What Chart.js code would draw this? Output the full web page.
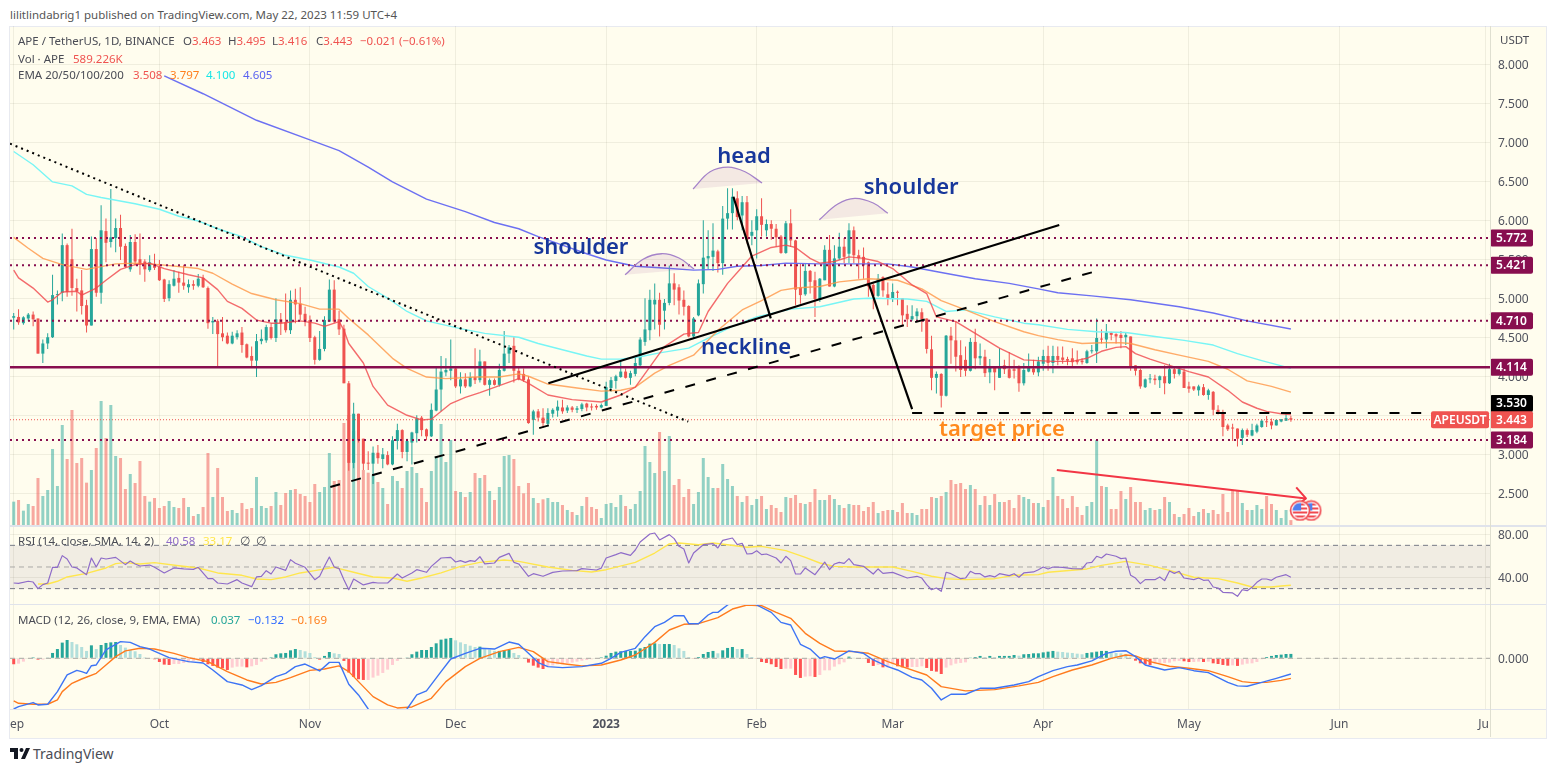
<!DOCTYPE html>
<html>
<head>
<meta charset="utf-8">
<title>APE / TetherUS</title>
<script src="https://cdn.jsdelivr.net/npm/chart.js@4/dist/chart.umd.js"></script>
<style>
  html, body { margin: 0; padding: 0; background: #fff; width: 1556px; height: 772px; overflow: hidden; }
  body { position: relative; font-family: "Noto Sans", sans-serif; }
  #frame { position: absolute; left: 9px; top: 26px; width: 1536px; height: 711px; background: #fffdee; border: 1px solid #e8eaf0; }
  canvas { position: absolute; left: 10px; }
  .rule { position: absolute; background: #e0e3eb; }
  .t { position: absolute; font-size: 11.5px; line-height: 16px; white-space: pre; color: #4a4c55; }
  .red { color: #ef5350; } .org { color: #ff7f1e; } .cya { color: #18e6e6; } .blu { color: #5a62f0; }
  .pur { color: #8e6bc8; } .yel { color: #ffe64d; } .tea { color: #26a69a; } .mb { color: #2f6bff; }
</style>
</head>
<body>
<div class="t" style="left:10px;top:7px;color:#555">lilitlindabrig1 published on TradingView.com, May 22, 2023 11:59 UTC+4</div>
<div id="frame"></div>
<canvas id="priceCanvas" width="1536" height="499" style="top:26px"></canvas>
<canvas id="rsiCanvas" width="1536" height="77" style="top:527px"></canvas>
<canvas id="macdCanvas" width="1536" height="132" style="top:605px"></canvas>
<div class="rule" style="left:10px;top:525px;width:1536px;height:2px"></div>
<div class="rule" style="left:10px;top:604px;width:1536px;height:1px"></div>
<div class="rule" style="left:10px;top:709px;width:1536px;height:1px"></div>
<div class="rule" style="left:1490px;top:26px;width:1px;height:711px;background:#dfdfd0"></div>

<div class="t" style="left:18px;top:33px">APE / TetherUS, 1D, BINANCE</div>
<div class="t" style="left:183px;top:33px">O<span class="red">3.463</span></div>
<div class="t" style="left:228px;top:33px">H<span class="red">3.495</span></div>
<div class="t" style="left:272px;top:33px">L<span class="red">3.416</span></div>
<div class="t" style="left:316px;top:33px">C<span class="red">3.443</span></div>
<div class="t red" style="left:360px;top:33px">−0.021 (−0.61%)</div>
<div class="t" style="left:18px;top:51px">Vol · APE</div>
<div class="t red" style="left:73px;top:51px">589.226K</div>
<div class="t" style="left:18px;top:67px">EMA 20/50/100/200</div>
<div class="t red" style="left:133px;top:67px">3.508</div>
<div class="t org" style="left:170px;top:67px">3.797</div>
<div class="t cya" style="left:206px;top:67px">4.100</div>
<div class="t blu" style="left:243px;top:67px">4.605</div>
<div class="t" style="left:1500px;top:32px">USDT</div>
<div class="t" style="left:18px;top:533px">RSI (14, close, SMA, 14, 2)</div>
<div class="t pur" style="left:166px;top:533px">40.58</div>
<div class="t yel" style="left:203px;top:533px">33.17</div>
<div class="t" style="left:240px;top:533px">∅</div>
<div class="t" style="left:256px;top:533px">∅</div>
<div class="t" style="left:18px;top:612px">MACD (12, 26, close, 9, EMA, EMA)</div>
<div class="t tea" style="left:211px;top:612px">0.037</div>
<div class="t mb" style="left:248px;top:612px">−0.132</div>
<div class="t org" style="left:291px;top:612px">−0.169</div>
<svg style="position:absolute;left:10px;top:748px" width="21" height="12" viewBox="0 0 21 12">
  <path d="M0 0h8v11H4V4H0z M20 0l-5 11h-4l5-11z" fill="#131722"/><circle cx="11.5" cy="2" r="2" fill="#131722"/>
</svg>
<div class="t" style="left:33px;top:745px;font-size:14px;line-height:18px;color:#4a4c55">TradingView</div>

<script>
// Daily candles, 1 Sep 2022 onwards; bar index = days since the first session
const opens = [
4.75,4.76,4.68,4.74,4.79,4.74,4.29,4.42,4.50,5.04,
5.07,5.68,5.50,5.13,5.10,4.91,4.65,5.63,5.07,5.86,
5.72,5.77,5.90,5.67,5.37,5.72,5.50,5.47,5.36,5.44,
5.40,5.24,5.00,5.16,5.26,5.20,5.14,5.18,5.16,5.26,
5.13,4.69,4.71,4.55,4.52,4.42,4.50,4.56,4.41,4.26,
4.20,4.45,4.46,4.63,4.49,4.73,4.69,4.59,4.98,4.93,
4.80,4.72,4.50,4.21,4.35,4.70,5.11,4.73,4.61,3.91,
2.89,3.52,3.20,2.89,2.88,3.02,2.94,2.99,2.87,3.17,
3.31,3.03,3.15,3.27,3.47,3.32,3.23,3.56,3.83,4.05,
4.07,4.10,3.87,3.96,3.87,3.99,3.95,4.19,3.89,3.95,
3.89,4.07,4.29,4.39,4.07,4.03,3.96,3.44,3.55,3.47,
3.39,3.52,3.56,3.60,3.56,3.60,3.57,3.58,3.65,3.61,
3.62,3.60,3.62,3.85,3.94,3.99,4.06,3.98,4.03,4.14,
4.44,4.59,4.92,4.98,4.84,4.94,5.19,5.14,4.98,4.90,
4.51,4.78,5.18,5.51,5.53,5.60,5.45,6.02,6.09,6.28,
6.06,6.23,5.80,5.87,6.05,5.87,5.95,5.89,5.79,5.58,
5.96,5.74,5.14,5.05,5.35,5.23,4.98,5.23,5.62,5.15,
5.51,5.66,5.57,5.87,5.55,5.53,5.46,5.17,5.03,5.27,
5.05,4.99,5.08,5.00,4.80,4.73,4.77,4.82,4.74,4.345,
3.98,4.03,3.75,4.52,4.46,4.27,4.21,4.07,4.44,4.23,
4.25,4.05,4.13,3.98,4.14,4.09,4.09,4.12,3.91,4.06,
4.10,4.05,4.16,4.26,4.17,4.26,4.24,4.22,4.23,4.21,
4.20,4.17,4.32,4.32,4.48,4.47,4.56,4.54,4.53,4.50,
4.51,4.14,4.08,3.86,3.96,3.97,3.95,4.00,3.91,4.09,
4.03,4.06,3.87,3.87,3.82,3.86,3.76,3.80,3.57,3.54,
3.37,3.34,3.33,3.21,3.31,3.24,3.29,3.35,3.42,3.42,
3.37,3.42,3.43,3.463];
const closes = [
4.77,4.69,4.755,4.79,4.73,4.29,4.42,4.50,5.04,5.05,
5.68,5.08,5.13,5.09,4.90,4.65,5.63,5.07,5.87,5.71,
5.78,5.90,5.66,5.40,5.72,5.47,5.43,5.37,5.46,5.39,
5.23,4.99,5.18,5.25,5.20,5.16,5.18,5.16,5.25,5.14,
4.68,4.71,4.54,4.50,4.42,4.52,4.55,4.40,4.24,4.20,
4.45,4.48,4.63,4.49,4.73,4.68,4.59,4.98,4.92,4.79,
4.70,4.49,4.21,4.35,4.72,5.11,4.70,4.60,3.91,2.89,
3.52,3.18,2.88,2.88,3.02,2.95,3.00,2.87,3.18,3.31,
3.03,3.17,3.28,3.46,3.31,3.23,3.57,3.83,4.06,4.08,
4.10,3.87,3.96,3.87,3.99,3.95,4.19,3.89,3.95,3.89,
4.08,4.29,4.37,4.07,3.96,3.95,3.40,3.55,3.47,3.40,
3.53,3.57,3.61,3.55,3.60,3.57,3.59,3.64,3.60,3.60,
3.60,3.63,3.86,3.95,4.00,4.06,3.98,4.04,4.17,4.47,
4.60,4.98,4.98,4.66,4.94,5.19,5.11,4.97,4.89,4.51,
4.74,5.19,5.52,5.54,5.61,5.45,6.02,6.09,6.30,6.04,
6.23,5.75,5.85,6.05,5.94,5.95,5.89,5.78,5.58,5.96,
5.74,5.11,5.04,5.35,5.21,4.99,5.25,5.62,5.15,5.51,
5.66,5.53,5.87,5.55,5.51,5.42,5.15,5.03,5.25,5.10,
4.99,5.08,5.07,4.78,4.73,4.77,4.83,4.73,4.35,3.98,
4.03,3.75,4.52,4.46,4.25,4.08,4.07,4.44,4.23,4.26,
4.04,4.13,4.05,4.13,4.09,3.98,4.07,3.91,4.08,4.12,
4.05,4.19,4.26,4.17,4.26,4.21,4.21,4.20,4.18,4.18,
4.18,4.32,4.33,4.49,4.47,4.56,4.53,4.51,4.49,4.53,
4.12,4.07,3.87,3.96,3.97,3.95,4.00,3.91,4.09,4.03,
4.09,3.85,3.84,3.83,3.87,3.76,3.82,3.57,3.52,3.35,
3.32,3.33,3.20,3.31,3.25,3.31,3.37,3.43,3.41,3.37,
3.44,3.45,3.463,3.443];
const highs = [
4.81,4.86,4.77,4.81,4.83,4.74,4.47,4.55,5.30,5.10,
5.83,5.70,5.89,5.25,5.36,4.98,5.79,5.77,6.19,6.02,
6.40,6.02,6.07,5.70,5.81,5.82,5.83,5.50,5.55,5.57,
5.49,5.25,5.23,5.36,5.34,5.43,5.24,5.23,5.31,5.30,
5.15,4.76,4.73,4.76,4.56,4.57,4.59,4.63,4.42,4.38,
4.54,4.60,4.66,4.68,5.00,4.81,5.06,5.10,5.12,5.14,
4.89,4.78,4.52,4.58,4.77,5.24,5.23,4.84,4.66,3.94,
3.66,3.52,3.20,3.04,3.10,3.12,3.08,3.04,3.23,3.39,
3.32,3.20,3.29,3.50,3.49,3.33,3.65,4.11,4.26,4.23,
4.47,4.11,4.05,4.04,4.05,4.36,4.34,4.19,3.97,3.97,
4.16,4.58,4.40,4.50,4.13,4.10,4.00,3.57,3.58,3.59,
3.59,3.59,3.69,3.70,3.63,3.62,3.62,3.66,3.66,3.65,
3.64,3.65,3.93,3.99,4.02,4.20,4.10,4.07,4.25,4.50,
5.00,5.11,5.19,5.07,4.99,5.42,5.32,5.18,5.10,4.91,
4.76,5.24,6.00,5.87,5.96,5.62,6.18,6.41,6.41,6.37,
6.31,6.31,6.00,6.14,6.28,6.01,6.00,5.95,5.81,5.99,
6.14,5.75,5.45,5.45,5.36,5.34,5.26,5.68,5.81,5.68,
5.84,5.77,5.96,5.92,5.62,5.65,5.47,5.19,5.31,5.28,
5.20,5.19,5.10,5.00,4.91,4.91,4.87,4.87,4.74,4.52,
4.06,4.04,4.53,4.63,4.70,4.46,4.38,4.49,4.61,4.42,
4.34,4.22,4.13,4.36,4.21,4.31,4.21,4.14,4.17,4.29,
4.21,4.25,4.34,4.39,4.39,4.38,4.38,4.25,4.36,4.33,
4.23,4.34,4.40,4.74,4.60,4.67,4.57,4.55,4.58,4.56,
4.51,4.14,4.10,3.97,4.03,4.02,4.01,4.14,4.16,4.12,
4.12,4.10,3.93,3.87,3.89,3.90,3.84,3.81,3.63,3.57,
3.39,3.39,3.33,3.33,3.33,3.39,3.39,3.45,3.49,3.46,
3.45,3.45,3.53,3.495];
const lows = [
4.60,4.66,4.66,4.71,4.64,4.29,4.17,4.35,4.49,4.92,
4.96,5.02,5.03,4.83,4.79,4.56,4.65,5.02,4.93,5.46,
5.65,5.59,5.49,5.39,5.34,5.42,5.30,5.21,5.34,5.36,
5.22,4.95,4.96,5.15,5.07,5.11,5.07,5.11,5.14,5.13,
4.61,4.54,4.12,4.45,4.41,4.41,4.47,4.30,4.23,4.12,
3.99,4.41,4.43,4.47,4.44,4.53,4.56,4.54,4.68,4.72,
4.64,4.44,4.15,4.20,4.32,4.70,4.68,4.53,3.91,2.79,
2.82,3.15,2.80,2.80,2.62,2.88,2.82,2.86,2.86,3.06,
2.95,2.91,2.87,3.15,3.23,3.18,3.22,3.55,3.55,4.00,
3.95,3.85,3.78,3.85,3.86,3.90,3.92,3.88,3.75,3.88,
3.87,4.06,4.17,3.92,3.95,3.93,3.39,3.25,3.42,3.34,
3.36,3.47,3.48,3.52,3.53,3.54,3.53,3.55,3.55,3.56,
3.57,3.59,3.62,3.80,3.84,3.98,3.97,3.89,4.00,4.13,
4.39,4.46,4.60,4.51,4.60,4.91,4.91,4.79,4.78,4.50,
4.49,4.77,5.06,5.37,5.35,5.33,5.30,5.88,5.88,6.00,
5.87,5.70,5.68,5.51,5.79,5.79,5.75,5.66,5.57,5.57,
5.66,4.91,4.93,5.03,5.06,4.76,4.95,5.23,5.15,5.14,
5.49,5.45,5.45,5.45,5.25,5.25,5.02,4.86,5.02,5.02,
4.91,4.95,4.91,4.64,4.63,4.71,4.70,4.57,4.29,3.82,
3.78,3.60,3.74,4.16,4.06,3.99,4.00,4.06,4.09,4.14,
3.99,3.91,3.82,3.98,4.03,3.97,3.97,3.80,3.88,4.05,
4.02,4.00,4.07,4.07,4.04,4.14,4.16,4.14,4.13,4.15,
4.15,4.16,4.29,4.17,4.42,4.36,4.46,4.42,4.36,4.40,
4.07,4.01,3.84,3.85,3.91,3.89,3.85,3.77,3.90,3.97,
4.01,3.85,3.79,3.81,3.75,3.75,3.70,3.50,3.51,3.23,
3.30,3.17,3.10,3.12,3.22,3.23,3.27,3.34,3.35,3.32,
3.37,3.41,3.43,3.416];
// Traded volume, thousands of APE
const volumes = [
2800,3000,1720,2520,2280,5640,3480,4200,9120,4680,
12000,7920,13800,7440,8040,5080,6600,9240,14880,10440,
14400,8280,8040,4320,6120,5040,7680,3480,2800,3240,
2040,2280,2880,2160,2040,3240,2160,1080,1320,2160,
8640,3360,6840,3360,1680,1800,1440,2640,1920,2040,
5760,2280,2040,2280,3960,2400,3840,4200,4320,3720,
3480,2760,4920,3960,4560,8640,5280,5400,12240,13200,
11280,10600,6600,6280,6000,5160,4440,2520,5880,5280,
4440,6480,6960,6240,4440,2760,6480,8200,12120,7560,
10200,4080,3960,3360,3960,6240,5640,6000,4080,3000,
4560,8280,8400,7920,4680,3800,5040,3240,2640,3080,
3240,2760,2760,2400,1800,1560,1200,2280,3360,2160,
1920,840,2520,2640,2160,3600,2280,1920,2520,4080,
9480,7560,6240,11160,6480,10680,4800,5520,3360,4320,
2520,3960,8040,5760,4440,4440,7320,5520,4680,3480,
2760,3480,2400,3120,3480,1920,2400,2040,1560,3360,
3240,3600,2640,2520,2760,4320,3000,3000,3600,3120,
2400,2040,2520,2400,2400,1680,2160,2760,1440,1680,
1800,1800,1560,2640,1440,1440,1200,1920,1920,3360,
3240,3480,3960,5400,4920,5040,4320,4800,4320,2400,
3480,2400,3720,2760,2760,3000,2040,3600,3360,3120,
2640,2640,2160,3000,5760,3480,3120,2040,3480,2160,
1200,2280,2760,10200,4680,4560,1920,1920,4080,3120,
4560,2760,2760,1800,2040,1800,1920,3360,2760,1320,
960,1320,2040,1080,1560,1920,1440,1800,1320,3720,
1560,4080,4080,2640,1800,1800,2400,1920,3480,2520,
1800,840,1800,589.226];

// Moving averages, read at the sessions listed beside each one
const ema20Days = [0,1,4,7,8,10,13,14,17,19,22,25,28,31,36,39,42,44,47,50,53,55,59,62,64,67,68,69,72,74,77,81,84,86,90,93,96,100,104,106,110,115,121,125,128,131,134,138,139,141,143,147,150,152,156,159,161,164,166,169,172,175,178,181,185,188,190,194,198,203,208,211,214,218,221,224,227,229,231,234,238,242,246,250,253,256,258,261,263];
const ema20Values = [5.36,5.26,5.13,4.95,4.98,5.08,5.09,5.04,5.13,5.23,5.37,5.43,5.45,5.38,5.30,5.26,5.11,4.96,4.87,4.72,4.68,4.68,4.71,4.68,4.64,4.70,4.59,4.42,4.17,3.87,3.63,3.50,3.44,3.45,3.65,3.73,3.79,3.88,3.97,3.91,3.76,3.70,3.67,3.76,3.86,4.12,4.38,4.54,4.55,4.56,4.83,5.19,5.40,5.54,5.65,5.68,5.65,5.51,5.45,5.47,5.53,5.51,5.47,5.38,5.17,5.06,4.76,4.70,4.55,4.36,4.21,4.20,4.19,4.19,4.23,4.32,4.37,4.38,4.29,4.22,4.14,4.06,3.99,3.82,3.67,3.59,3.55,3.52,3.508];
const ema50Days = [0,3,6,10,15,21,25,30,38,41,45,49,54,59,63,67,69,73,78,81,85,89,95,100,104,106,110,116,121,125,128,132,135,140,145,150,154,158,161,166,170,176,182,187,191,196,202,208,211,215,220,224,228,230,235,240,246,250,254,259,263];
const ema50Values = [5.78,5.64,5.51,5.43,5.37,5.44,5.45,5.43,5.38,5.32,5.18,5.06,4.98,4.93,4.86,4.86,4.74,4.53,4.23,4.10,3.99,3.97,3.99,3.99,4.03,4.00,3.90,3.85,3.81,3.82,3.86,4.04,4.14,4.27,4.59,4.85,4.97,5.10,5.13,5.15,5.21,5.25,5.23,5.12,4.97,4.85,4.70,4.57,4.52,4.47,4.42,4.43,4.43,4.42,4.34,4.27,4.19,4.09,3.94,3.87,3.797];
const ema100Days = [0,4,8,12,15,18,25,30,34,38,42,47,51,56,61,67,70,73,77,81,85,92,97,104,108,113,118,121,125,129,133,139,143,148,153,160,166,173,176,184,188,192,196,202,208,211,217,223,229,235,241,247,252,257,263];
const ema100Values = [6.88,6.71,6.49,6.44,6.33,6.29,6.21,6.14,6.05,5.99,5.89,5.79,5.66,5.55,5.49,5.40,5.32,5.15,5.00,4.83,4.71,4.61,4.55,4.50,4.42,4.34,4.26,4.22,4.22,4.25,4.30,4.36,4.49,4.64,4.76,4.86,4.89,4.99,5.00,4.99,4.96,4.83,4.85,4.76,4.68,4.66,4.60,4.57,4.56,4.51,4.46,4.40,4.29,4.20,4.10];
const ema200Days = [31,39,50,61,67,73,78,85,93,99,104,108,113,118,122,128,133,140,145,149,154,159,166,173,180,185,191,198,205,211,215,222,230,240,247,254,263];
const ema200Values = [7.85,7.62,7.28,7.03,6.89,6.68,6.49,6.27,6.11,5.97,5.89,5.79,5.68,5.57,5.49,5.41,5.39,5.36,5.37,5.41,5.42,5.45,5.44,5.44,5.44,5.40,5.33,5.25,5.19,5.12,5.07,5.03,4.98,4.89,4.81,4.71,4.605];

// RSI and its moving average
const rsiDays = [0,1,3,4,5,6,7,8,9,10,11,12,13,15,16,17,18,19,21,23,24,25,26,28,29,31,33,35,37,38,40,41,42,44,46,47,49,50,51,52,53,54,56,57,58,60,62,63,64,65,66,67,68,69,70,72,74,75,77,79,80,82,83,85,86,88,90,91,92,93,94,95,96,97,99,100,102,103,104,106,107,109,111,113,116,117,120,121,122,124,125,127,128,129,131,132,133,135,136,137,138,139,140,142,144,145,146,148,149,150,151,152,153,154,155,157,158,159,160,161,162,163,165,167,168,169,170,171,172,173,175,177,178,179,181,184,186,187,188,189,190,191,192,193,195,196,197,198,199,200,201,202,203,205,206,207,208,210,211,212,213,214,216,218,220,221,222,223,224,225,227,228,229,230,231,232,233,235,236,237,238,239,240,241,243,244,245,246,247,248,249,251,252,253,254,255,256,257,258,259,260,262,263];
const rsiValues = [35.2,34.9,36.8,36.1,30,33.7,35.2,49.7,49.7,60.5,57.4,50,49.1,42.9,58.3,50,58.3,57.4,58.9,52.2,55.5,52.8,50.9,51.8,49.7,44.5,49.1,48.2,47.8,49.7,39.2,39.2,35.2,34.3,38.3,35.2,31.8,40.8,41.4,46.6,43.5,50,46.9,56.8,53.4,49.7,38.3,41.4,50.6,59.2,50,48.5,38.3,29,38.9,33.4,35.8,35.2,35.2,43.5,39.8,44.5,47.5,45.1,50.6,58.3,58.9,54.6,55.9,54.3,55.9,55.2,59.5,52.8,53.7,58.9,62.6,54.3,52.8,41.4,43.8,41.4,45,46.3,46.6,48.5,47.2,49,58.3,61.4,63.2,60.8,65.7,73.1,80.5,81.4,75,79.9,76.2,69.1,66.6,53.7,62.9,70.6,71.6,67.6,74.6,76.8,70.6,71.9,62,62.3,65,61.4,62,58.3,53.7,59.9,55.9,43.5,43.5,49.1,42.9,54.6,47.5,52.8,54.3,53.4,57.7,52.2,50.6,43.5,48.2,44.1,45,39.8,41.4,39.8,33.7,29,30.6,27.5,45.1,43.8,39.2,39.8,46,43.8,43.8,40.8,42,40.8,43.8,42,43.8,40.5,44.5,45.4,47.5,50,48.2,50,49.7,48.5,48.2,53.7,54.3,59.9,58.3,62,59.9,57.7,58.3,42.3,39.8,34.6,38.3,38.3,40.8,37.4,46.3,44.1,46,39.8,38.3,39.8,37.7,38,31.5,30.6,26.6,26,22.9,29,28.1,31.2,35.8,38.9,38.9,37.7,40.5,42.9,40.58];
const rsiMaDays = [5,7,9,11,15,19,21,23,26,29,34,38,42,47,50,53,56,59,62,66,70,74,78,81,84,88,92,96,101,104,110,115,119,122,128,132,135,137,141,144,147,151,154,159,163,166,169,173,177,181,185,189,192,196,202,206,211,213,221,224,229,234,238,243,248,252,255,259,261,263];
const rsiMaValues = [34.3,34.3,36.8,40.8,44.1,49.1,53.1,54,52.8,54,51.2,49.1,44.5,42.3,38.9,38.3,40.8,44.5,46.6,49.7,45.1,40.8,39.8,36.8,39.8,44.5,50.6,54.3,56.5,55.2,50,46.9,45.4,47.5,54.3,62.9,71.3,72.2,70.6,72.2,70.6,68.2,69.1,65.1,58.9,53.7,50.6,50,50,50,46,41.4,39.2,38.3,39.2,42.3,42.9,45.1,48.2,51.5,55.2,51.5,46.9,40.5,39.2,35.2,31.5,31.5,32.4,33.17];
const rsiBands = [70, 50, 30];

// MACD line, signal line and histogram
const macdDays = [0,1,4,5,7,9,11,13,14,15,16,17,19,22,24,26,28,30,32,36,39,41,44,47,49,51,54,56,58,60,63,65,67,69,71,73,76,79,81,83,85,88,90,93,96,99,102,104,106,108,110,113,117,121,123,125,128,130,132,134,136,138,139,141,143,144,145,147,150,153,156,158,160,162,164,166,167,169,172,175,177,180,182,185,187,189,191,193,196,199,202,206,209,211,214,217,219,222,225,227,229,231,233,237,240,243,246,250,252,254,257,260,263];
const macdValues = [-0.426,-0.406,-0.372,-0.392,-0.386,-0.28,-0.14,-0.101,-0.112,-0.126,-0.062,-0.056,0.07,0.14,0.134,0.098,0.078,0.042,0.006,-0.028,-0.039,-0.098,-0.196,-0.224,-0.263,-0.23,-0.154,-0.126,-0.07,-0.048,-0.106,-0.034,-0.034,-0.218,-0.308,-0.426,-0.55,-0.55,-0.426,-0.308,-0.274,-0.112,-0.006,0.042,0.084,0.078,0.137,0.118,0.042,-0.036,-0.07,-0.078,-0.07,-0.042,0,0.05,0.084,0.182,0.266,0.302,0.358,0.358,0.291,0.291,0.364,0.386,0.386,0.448,0.52,0.448,0.386,0.302,0.28,0.118,0.078,0,0.014,-0.006,0.062,0.042,-0.014,-0.07,-0.098,-0.16,-0.182,-0.252,-0.35,-0.302,-0.302,-0.252,-0.252,-0.224,-0.196,-0.154,-0.104,-0.07,-0.056,-0.022,0.042,0.059,0.064,0.014,-0.056,-0.098,-0.078,-0.104,-0.12,-0.202,-0.232,-0.235,-0.202,-0.168,-0.132];
const signalDays = [0,1,4,7,9,10,12,14,17,19,21,23,26,29,33,36,40,44,48,51,54,57,61,64,67,69,71,74,77,79,82,86,89,93,96,100,104,107,110,114,117,121,125,128,132,135,138,141,145,148,151,154,157,160,163,166,169,173,176,180,184,188,191,196,202,207,211,214,218,222,226,229,231,234,238,242,246,250,253,255,258,261,263];
const signalValues = [-0.358,-0.378,-0.386,-0.386,-0.35,-0.28,-0.21,-0.174,-0.126,-0.056,0.014,0.062,0.084,0.078,0.042,0.006,-0.028,-0.112,-0.182,-0.216,-0.202,-0.162,-0.101,-0.09,-0.064,-0.112,-0.196,-0.322,-0.392,-0.417,-0.409,-0.336,-0.196,-0.07,0,0.056,0.092,0.056,-0.028,-0.05,-0.064,-0.056,-0.014,0.028,0.134,0.238,0.286,0.291,0.342,0.414,0.448,0.442,0.386,0.336,0.21,0.126,0.062,0.056,0.042,-0.028,-0.084,-0.14,-0.238,-0.274,-0.263,-0.232,-0.202,-0.154,-0.098,-0.056,0,0.028,0.02,-0.028,-0.067,-0.084,-0.104,-0.154,-0.196,-0.204,-0.202,-0.185,-0.169];
const macdHist = [
-0.05,-0.045,-0.028,0,0.008,-0.011,-0.011,0.003,0.045,0.078,
0.132,0.154,0.137,0.118,0.095,0.062,0.109,0.078,0.112,0.129,
0.134,0.137,0.112,0.09,0.07,0.059,0.036,0.008,0,-0.008,
-0.031,-0.053,-0.056,-0.048,-0.048,-0.039,-0.034,-0.022,-0.017,-0.031,
-0.05,-0.064,-0.078,-0.084,-0.098,-0.078,-0.07,-0.07,-0.076,-0.067,
-0.056,-0.028,-0.011,0.008,0.034,0.042,0.045,0.067,0.078,0.07,
0.059,0.045,0.011,-0.011,0.02,0.053,0.042,0.036,-0.022,-0.12,
-0.157,-0.176,-0.182,-0.182,-0.162,-0.146,-0.123,-0.095,-0.056,-0.022,
-0.006,0.006,0.034,0.056,0.07,0.07,0.095,0.126,0.157,0.165,
0.171,0.151,0.134,0.12,0.106,0.095,0.098,0.078,0.073,0.062,
0.062,0.067,0.07,0.045,0.028,0.006,-0.036,-0.062,-0.078,-0.09,
-0.07,-0.059,-0.05,-0.05,-0.039,-0.036,-0.028,-0.02,-0.014,-0.008,
0,0.008,0.022,0.045,0.056,0.059,0.062,0.062,0.064,0.084,
0.095,0.123,0.126,0.12,0.12,0.12,0.112,0.084,0.062,0.011,
-0.003,0.011,0.036,0.053,0.062,0.042,0.067,0.087,0.095,0.078,
0.078,0.036,0.011,-0.003,-0.031,-0.039,-0.05,-0.073,-0.09,-0.087,
-0.087,-0.14,-0.165,-0.154,-0.151,-0.157,-0.14,-0.101,-0.101,-0.07,
-0.05,-0.034,0.014,0.006,-0.003,-0.006,-0.039,-0.064,-0.056,-0.076,
-0.076,-0.05,-0.067,-0.076,-0.078,-0.073,-0.073,-0.067,-0.081,-0.106,
-0.112,-0.132,-0.078,-0.059,-0.045,-0.039,-0.034,0.006,0.011,0.02,
0.011,0.02,0.011,0.02,0.02,0.02,0.028,0.022,0.034,0.036,
0.042,0.042,0.05,0.056,0.062,0.056,0.053,0.048,0.045,0.039,
0.034,0.045,0.05,0.056,0.062,0.062,0.05,0.045,0.042,0.036,
0.008,-0.02,-0.042,-0.05,-0.056,-0.045,-0.039,-0.039,-0.036,-0.025,
-0.022,-0.025,-0.031,-0.031,-0.028,-0.031,-0.028,-0.042,-0.048,-0.056,
-0.062,-0.059,-0.064,-0.053,-0.045,-0.042,-0.031,-0.008,0.011,0.02,
0.028,0.031,0.036,0.037];

// Axis ticks
const priceTicks = [2.5,3,3.5,4,4.5,5,5.5,6,6.5,7,7.5,8];
const rsiTicks = [40,80];
const macdTicks = [0];
const monthStarts = [0,30,61,91,122,153,181,212,242,273,303];
const monthLabels = ['Sep','Oct','Nov','Dec','2023','Feb','Mar','Apr','May','Jun','Jul'];

// Horizontal price levels
const dottedLevels = [5.772,5.421,4.710,3.184];
const solidLevel = 4.114;
const targetLevel = 3.530;
const lastPrice = 3.443;

// Hand-drawn pattern lines, each given as session / price pairs
const resistanceTrend = [[-0.76,6.98],[138.9,3.418]];
const necklineTrend = [[110.1,3.91],[215.3,5.938]];
const supportTrend = [[65.2,2.581],[223.7,5.361]];
const headDrop = [[148.2,6.30],[155.9,4.742]];
const targetDrop = [[176.1,5.18],[185,3.58]];
const targetRun = [[185,targetLevel],[304,targetLevel]];
const volumeArrow = [[214.8,2.80],[266.1,2.434]];
const arrowHead = [[264.1,2.577],[266.1,2.434],[264.3,2.35]];
const headArc = [[139.9,6.40],[143.4,6.62],[147.1,6.68],[150.6,6.62],[154.1,6.476]];
const leftArc = [[125.9,5.30],[129.6,5.50],[133.4,5.57],[137,5.515],[140.1,5.374]];
const rightArc = [[165.9,6.006],[169.7,6.207],[173.2,6.28],[177,6.22],[180,6.088]];
const eventFlags = [[267.2,2.28],[264.9,2.28]];

const uiFont = '"Noto Sans", sans-serif';
Chart.defaults.font.family = uiFont;
Chart.defaults.animation = false;

const TEAL = '#26a69a', RED = '#ef5350';
const gridColor = 'rgba(60,60,30,0.075)';
const axisWidth = 56;
const xMin = -0.762, xMax = 304.0;
const tickColor = '#50535e';

const pairs = (list) => list.map(([x, y]) => ({ x, y }));
const zip = (xs, ys) => xs.map((x, i) => ({ x, y: ys[i] }));
const isUp = (i) => closes[i] >= opens[i];
const barColors = (up, down) => closes.map((_, i) => isUp(i) ? up : down);

function xAxis(height, showLabels) {
  return {
    type: 'linear', min: xMin, max: xMax, offset: false,
    border: { display: false },
    grid: { color: gridColor, drawTicks: false, offset: false },
    afterBuildTicks(s) { s.ticks = monthStarts.map((value) => ({ value })); },
    afterFit(s) { s.height = height; s.paddingLeft = 0; s.paddingRight = 0; },
    ticks: {
      display: showLabels, autoSkip: false, maxRotation: 0, padding: 8, color: tickColor,
      font: (ctx) => ({ size: 12, family: uiFont, weight: ctx.index === 4 ? '700' : '400' }),
      callback: (v, i) => monthLabels[i]
    }
  };
}
function yAxis(min, max, tickList, format) {
  return {
    type: 'linear', position: 'right', min, max, offset: false,
    border: { display: false },
    grid: { color: gridColor, drawTicks: false, offset: false },
    afterBuildTicks(s) { s.ticks = tickList.map((value) => ({ value })); },
    afterFit(s) { s.width = axisWidth; s.paddingTop = 0; s.paddingBottom = 0; },
    ticks: { padding: 8, labelOffset: 1, color: tickColor, font: { size: 12 }, callback: format }
  };
}
const baseOptions = {
  responsive: false, maintainAspectRatio: false, devicePixelRatio: 1,
  layout: { padding: 0, autoPadding: false },
  events: [],
  plugins: { legend: { display: false }, tooltip: { enabled: false } }
};
function lineSet(data, color, width, dash, order, extra) {
  return Object.assign({
    type: 'line', data, borderColor: color, borderWidth: width, borderDash: dash || [],
    pointRadius: 0, tension: 0, fill: false, order, yAxisID: 'y', borderJoinStyle: 'round'
  }, extra || {});
}

// Small US-flag marker for the economic-event pins
function flagMarker() {
  const c = document.createElement('canvas');
  c.width = 22; c.height = 22;
  const g = c.getContext('2d');
  g.beginPath(); g.arc(11, 11, 10, 0, 2 * Math.PI); g.fillStyle = '#fff'; g.fill();
  g.save(); g.beginPath(); g.arc(11, 11, 7.5, 0, 2 * Math.PI); g.clip();
  g.fillStyle = '#fff'; g.fillRect(0, 0, 22, 22);
  g.fillStyle = '#f0484e';
  for (let y = 4; y < 20; y += 4) g.fillRect(0, y, 22, 2);
  g.fillStyle = '#4f7ff0'; g.fillRect(3, 3, 9, 8);
  g.restore();
  g.beginPath(); g.arc(11, 11, 9.5, 0, 2 * Math.PI); g.strokeStyle = '#ef4148'; g.lineWidth = 1.6; g.stroke();
  return c;
}

// Pattern captions placed in session / price coordinates
const captions = [
  { text: 'head', day: 150.4, price: 6.81, color: '#17379b' },
  { text: 'shoulder', day: 184.8, price: 6.41, color: '#17379b' },
  { text: 'shoulder', day: 116.8, price: 5.645, color: '#17379b' },
  { text: 'neckline', day: 150.8, price: 4.365, color: '#17379b' },
  { text: 'target price', day: 203.5, price: 3.315, color: '#ff8a1e' }
];
// Value tags on the price axis
const priceTags = [
  { value: 5.772, text: '5.772', bg: '#880e4f', fg: '#fff' },
  { value: 5.421, text: '5.421', bg: '#880e4f', fg: '#fff' },
  { value: 4.710, text: '4.710', bg: '#880e4f', fg: '#fff' },
  { value: 4.114, text: '4.114', bg: '#880e4f', fg: '#fff' },
  { value: 3.530, text: '3.530', bg: '#000', fg: '#fff', lift: 9.5 },
  { value: 3.184, text: '3.184', bg: '#880e4f', fg: '#fff' },
  { value: 3.443, text: '3.443', bg: RED, fg: '#fff', name: 'APEUSDT' }
];
const overlayPlugin = {
  id: 'overlay',
  afterDatasetsDraw(chart) {
    const g = chart.ctx, xs = chart.scales.x, ys = chart.scales.y;
    g.save();
    g.textAlign = 'center'; g.textBaseline = 'middle';
    g.font = '600 22px ' + uiFont;
    captions.forEach((c) => {
      g.fillStyle = c.color;
      g.fillText(c.text, xs.getPixelForValue(c.day), ys.getPixelForValue(c.price));
    });
    g.restore();
  },
  afterDraw(chart) {
    const g = chart.ctx, ys = chart.scales.y, right = chart.chartArea.right;
    g.save();
    g.textAlign = 'center'; g.textBaseline = 'middle';
    priceTags.forEach((t) => {
      const cy = ys.getPixelForValue(t.value) - (t.lift || 0);
      g.fillStyle = t.bg;
      g.beginPath(); g.roundRect(right, cy - 8.5, 43, 17, 2); g.fill();
      if (t.name) { g.beginPath(); g.roundRect(right - 59, cy - 8.5, 58, 17, 2); g.fill(); }
      g.fillStyle = t.fg;
      g.font = '600 12px ' + uiFont;
      g.fillText(t.text, right + 21.5, cy + 0.5);
      if (t.name) g.fillText(t.name, right - 30, cy + 0.5);
    });
    g.restore();
  }
};

// Price pane: candles, volume, averages, levels and pattern drawings
const edgeLine = (v) => [{ x: xMin, y: v }, { x: xMax, y: v }];
new Chart(document.getElementById('priceCanvas'), {
  data: { datasets: [
    { type: 'bar', yAxisID: 'yVol', order: 100, grouped: false, barThickness: 3, inflateAmount: 0,
      data: zip(closes.map((_, i) => i), volumes),
      backgroundColor: barColors('rgba(38,166,154,0.5)', 'rgba(239,83,80,0.5)') },
    { type: 'bar', yAxisID: 'y', order: 90, grouped: false, barThickness: 1, inflateAmount: 0,
      data: lows.map((l, i) => ({ x: i, y: [l, highs[i]] })),
      backgroundColor: barColors(TEAL, RED) },
    { type: 'bar', yAxisID: 'y', order: 89, grouped: false, barThickness: 3, inflateAmount: 0, minBarLength: 1,
      data: opens.map((o, i) => ({ x: i, y: [o, closes[i]] })),
      backgroundColor: barColors(TEAL, RED) },
    lineSet(zip(ema200Days, ema200Values), '#6c70f2', 1.4, null, 80),
    lineSet(zip(ema100Days, ema100Values), '#78f5f5', 1.4, null, 79),
    lineSet(zip(ema50Days, ema50Values), 'rgba(255,150,70,0.8)', 1.4, null, 78),
    lineSet(zip(ema20Days, ema20Values), 'rgba(240,70,75,0.8)', 1.4, null, 77),
    lineSet(edgeLine(lastPrice), RED, 1, [1, 2], 70),
    ...dottedLevels.map((v) => lineSet(edgeLine(v), '#880e4f', 2, [2, 4], 60)),
    lineSet(edgeLine(solidLevel), '#880e4f', 2.5, null, 60),
    lineSet(pairs(leftArc), '#a583c9', 1.3, null, 50, { fill: 'shape', tension: 0.4, backgroundColor: 'rgba(150,60,140,0.1)' }),
    lineSet(pairs(headArc), '#a583c9', 1.3, null, 50, { fill: 'shape', tension: 0.4, backgroundColor: 'rgba(150,60,140,0.1)' }),
    lineSet(pairs(rightArc), '#a583c9', 1.3, null, 50, { fill: 'shape', tension: 0.4, backgroundColor: 'rgba(150,60,140,0.1)' }),
    lineSet(pairs(resistanceTrend), '#000', 2, [2, 4], 40),
    lineSet(pairs(supportTrend), '#000', 2, [10, 11.7], 40),
    lineSet(pairs(necklineTrend), '#000', 2.2, null, 40),
    lineSet(pairs(headDrop), '#000', 2.2, null, 40),
    lineSet(pairs(targetDrop), '#000', 2.2, null, 40),
    lineSet(pairs(targetRun), '#000', 2, [10, 11.7], 40),
    lineSet(pairs(volumeArrow), '#f23645', 2, null, 30),
    lineSet(pairs(arrowHead), '#f23645', 2, null, 30),
    lineSet(pairs(eventFlags), '#000', 0, null, 20, { showLine: false, pointStyle: flagMarker(), pointRadius: 10, clip: false })
  ] },
  options: Object.assign({}, baseOptions, {
    scales: {
      x: xAxis(0, false),
      y: yAxis(2.094, 8.488, priceTicks, (v) => v.toFixed(3)),
      yVol: { type: 'linear', display: false, offset: false, min: 0, max: 59880, ticks: { display: false },
              afterFit(s) { s.paddingTop = 0; s.paddingBottom = 0; } }
    }
  }),
  plugins: [overlayPlugin]
});

// RSI pane
new Chart(document.getElementById('rsiCanvas'), {
  data: { datasets: [
    lineSet(zip(rsiDays, rsiValues), '#8e6bc8', 1.2, null, 1),
    lineSet(zip(rsiMaDays, rsiMaValues), '#ffe64d', 1.4, null, 2),
    lineSet(edgeLine(rsiBands[1]), '#aaa9a6', 1, [5, 4], 5),
    lineSet(edgeLine(rsiBands[0]), '#787b86', 1, [5, 4], 6, { fill: '+1', backgroundColor: 'rgba(110,80,130,0.095)' }),
    lineSet(edgeLine(rsiBands[2]), '#787b86', 1, [5, 4], 6)
  ] },
  options: Object.assign({}, baseOptions, {
    scales: { x: xAxis(0, false), y: yAxis(15.8, 86.95, rsiTicks, (v) => v.toFixed(2)) }
  })
});

// MACD pane; time-axis labels running past the plot stop at the price-axis column
const maskAxisCorner = {
  id: 'maskAxisCorner',
  afterDraw(chart) {
    const { right, bottom } = chart.chartArea;
    chart.ctx.fillStyle = '#fffdee';
    chart.ctx.fillRect(right, bottom + 1, axisWidth, chart.height - bottom - 1);
  }
};
new Chart(document.getElementById('macdCanvas'), {
  data: { datasets: [
    { type: 'bar', yAxisID: 'y', order: 10, grouped: false, barThickness: 3, inflateAmount: 0,
      data: macdHist.map((v, i) => ({ x: i, y: v })),
      backgroundColor: macdHist.map((v, i) => {
        const prev = i ? macdHist[i - 1] : 0;
        if (v >= 0) return v >= prev ? TEAL : '#b2dfdb';
        return v < prev ? '#ff5252' : '#ffcdd2';
      }) },
    lineSet(edgeLine(0), '#aaa9a6', 1, [5, 4], 8),
    lineSet(zip(signalDays, signalValues), '#ff7b1e', 1.4, null, 3),
    lineSet(zip(macdDays, macdValues), '#3d74f5', 1.4, null, 2)
  ] },
  options: Object.assign({}, baseOptions, {
    scales: { x: xAxis(28, true), y: yAxis(-0.426, 0.448, macdTicks, (v) => v.toFixed(3)) }
  }),
  plugins: [maskAxisCorner]
});
</script>
</body>
</html>
